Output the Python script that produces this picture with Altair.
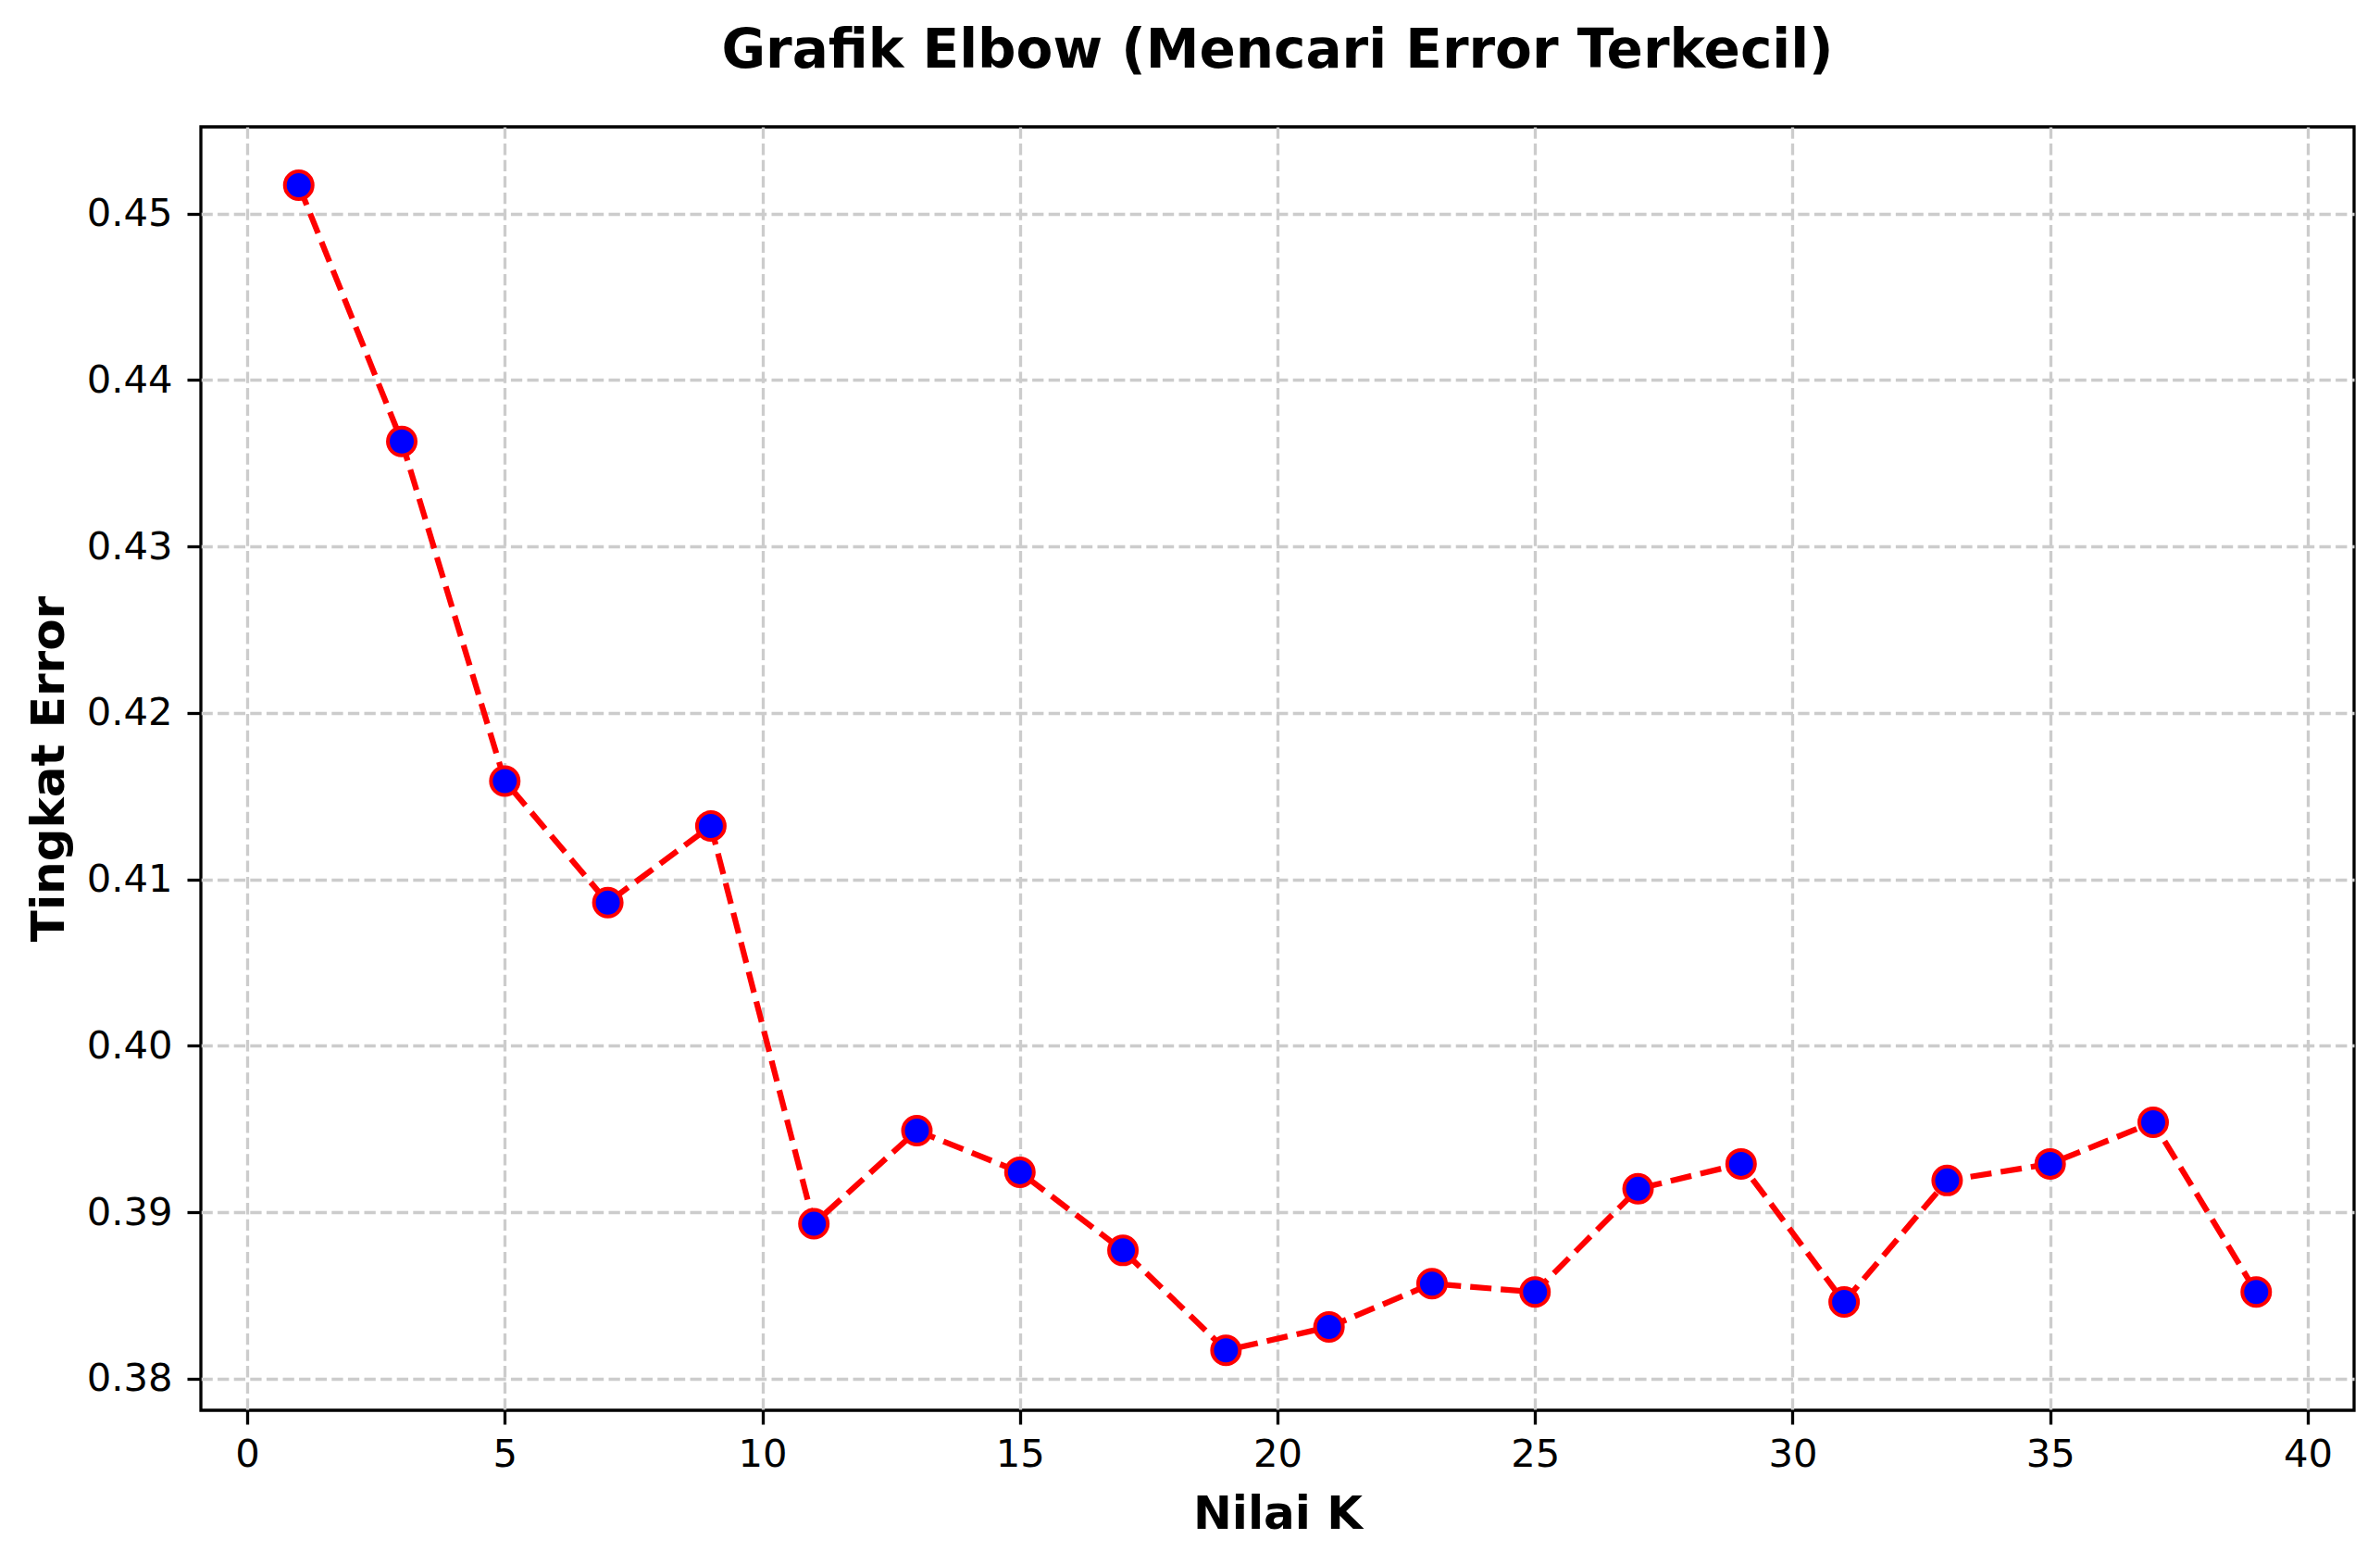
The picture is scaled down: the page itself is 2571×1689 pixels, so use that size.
import pandas as pd
import altair as alt

# nilai K yang dicoba dan error rate hasil pembacaan grafik
k_values = [1, 3, 5, 7, 9, 11, 13, 15, 17, 19, 21, 23, 25, 27, 29, 31, 33, 35, 37, 39]
error_rate = [
    0.4517, 0.4363, 0.4159, 0.4086, 0.4132, 0.3893, 0.3949, 0.3924, 0.3877, 0.3817,
    0.3831, 0.3857, 0.3852, 0.3914, 0.3929, 0.3846, 0.3919, 0.3929, 0.3954, 0.3852,
]
x_ticks = [0, 5, 10, 15, 20, 25, 30, 35, 40]
y_ticks = [0.38, 0.39, 0.40, 0.41, 0.42, 0.43, 0.44, 0.45]

df = pd.DataFrame({"K": k_values, "Error": error_rate})

FONT = "DejaVu Sans"
W, H = 2326, 1386

x_enc = alt.X(
    "K:Q",
    scale=alt.Scale(domain=[-0.9, 40.9], nice=False, zero=False),
    axis=alt.Axis(
        values=x_ticks, format="d", title="Nilai K",
        titleX=W / 2, titleY=127, titleBaseline="alphabetic", titleAlign="center",
        labelPadding=12,
    ),
)
y_enc = alt.Y(
    "Error:Q",
    scale=alt.Scale(domain=[0.378095, 0.455205], nice=False, zero=False),
    axis=alt.Axis(
        values=y_ticks, format=".2f", title="Tingkat Error",
        titleX=-149, titleY=H / 2, titleBaseline="alphabetic", titleAlign="center",
        titleAngle=270, labelPadding=16,
    ),
)

base = alt.Chart(df).encode(x=x_enc, y=y_enc)

line = base.mark_line(color="red", strokeWidth=6.25, strokeDash=[23, 10])
dots = base.mark_point(
    shape="circle", filled=True, fill="blue", stroke="red",
    strokeWidth=4, size=900, opacity=1,
)

chart = (
    alt.layer(line, dots)
    .properties(
        width=W,
        height=H,
        title=alt.TitleParams(
            "Grafik Elbow (Mencari Error Terkecil)",
            font=FONT, fontSize=58, fontWeight="bold", color="black",
            anchor="middle", baseline="alphabetic", offset=6,
        ),
        autosize=alt.AutoSizeParams(type="none"),
        padding={"left": 209, "top": 129, "right": 20, "bottom": 150},
    )
    .configure_view(stroke="black", strokeWidth=3.3)
    .configure_axis(
        domain=False,
        grid=True, gridColor="#cccccc", gridDash=[12.3, 5.3], gridWidth=3.3,
        ticks=True, tickColor="black", tickSize=15, tickWidth=3.3,
        labelFont=FONT, labelFontSize=41.7, labelColor="black",
        titleFont=FONT, titleFontSize=50, titleFontWeight="bold", titleColor="black",
    )
)

chart.save("out.html", embed_options={"renderer": "svg", "actions": False})
